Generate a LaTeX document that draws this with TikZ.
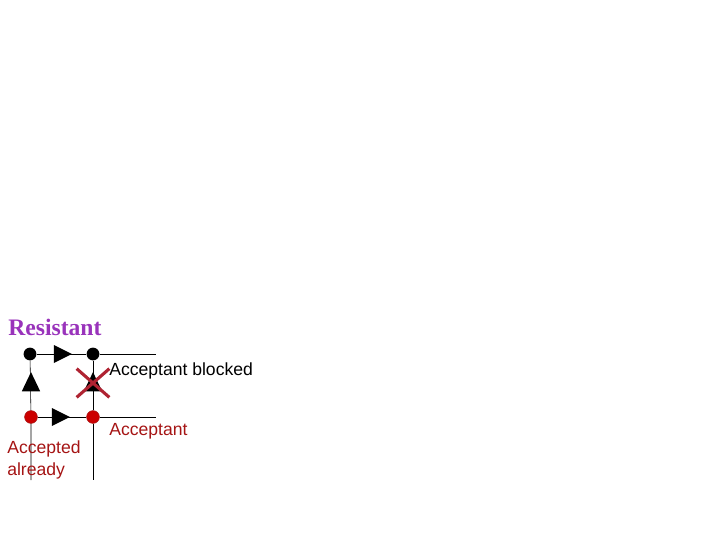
\documentclass[tikz,border=0pt]{standalone}
\usepackage{fontspec}
\setmainfont{Liberation Sans}
\newfontfamily\titlefont{Liberation Serif}
\usetikzlibrary{shapes.geometric,shapes.misc}
\definecolor{resviolet}{RGB}{153,51,187}
\definecolor{accred}{RGB}{165,20,20}
\definecolor{dotred}{RGB}{204,0,0}
\definecolor{crossred}{RGB}{175,35,50}
\begin{document}
\begin{tikzpicture}[x=0.025cm,y=-0.025cm,
	blackdot/.style={circle,fill=black,inner sep=0pt,minimum size=0.32cm},
	reddot/.style={circle,fill=dotred,draw=accred,thin,inner sep=0pt,minimum size=0.32cm},
	flowtri/.style={isosceles triangle,isosceles triangle stretches,fill=black,inner sep=0pt,minimum width=0.45cm,minimum height=0.45cm},
	label/.style={anchor=base west,inner sep=0pt,font=\fontsize{12.5}{15.6}\selectfont,align=left}
]
\useasboundingbox (0,0) rectangle (720,540);

% Titel
\node[anchor=base west,inner sep=0pt,text=resviolet,font=\titlefont\bfseries\fontsize{16.8}{20}\selectfont] (res) at (8,335) {Resistant};

% Gitter
\node[blackdot] (tl) at (30,354) {};
\node[blackdot] (tr) at (93,354) {};
\node[reddot] (bl) at (31,417) {};
\node[reddot] (br) at (93,417) {};
\coordinate (te) at (156,354);
\coordinate (be) at (156,417);
\coordinate (lb) at (31,480);
\coordinate (rb) at (93,480);

\draw (tl) -- (tr) -- (te);
\draw (bl) -- (br) -- (be);
\draw (tl) -- (bl) -- (lb);
\draw (tr) -- (br) -- (rb);

% Pfeile
\node[flowtri] (t1) at (59.5,354) {};
\node[flowtri] (t2) at (57.5,417) {};
\node[flowtri,shape border rotate=90,minimum width=0.46cm,minimum height=0.48cm] (t3) at (31,385.5) {};
\node[flowtri,shape border rotate=90,minimum width=0.46cm,minimum height=0.48cm] (t4) at (93,385.5) {};

% blockiert
\node[cross out,draw=crossred,line width=2.2pt,minimum width=0.74cm,minimum height=0.64cm] (blk) at (93,383) {};

% Beschriftung
\node[label] (lblk) at (109,375) {Acceptant blocked};
\node[label,text=accred] (lacc) at (109,435) {Acceptant};
\node[label,text=accred] (lald) at (7,475.5) {Accepted\\already};

\end{tikzpicture}
\end{document}
